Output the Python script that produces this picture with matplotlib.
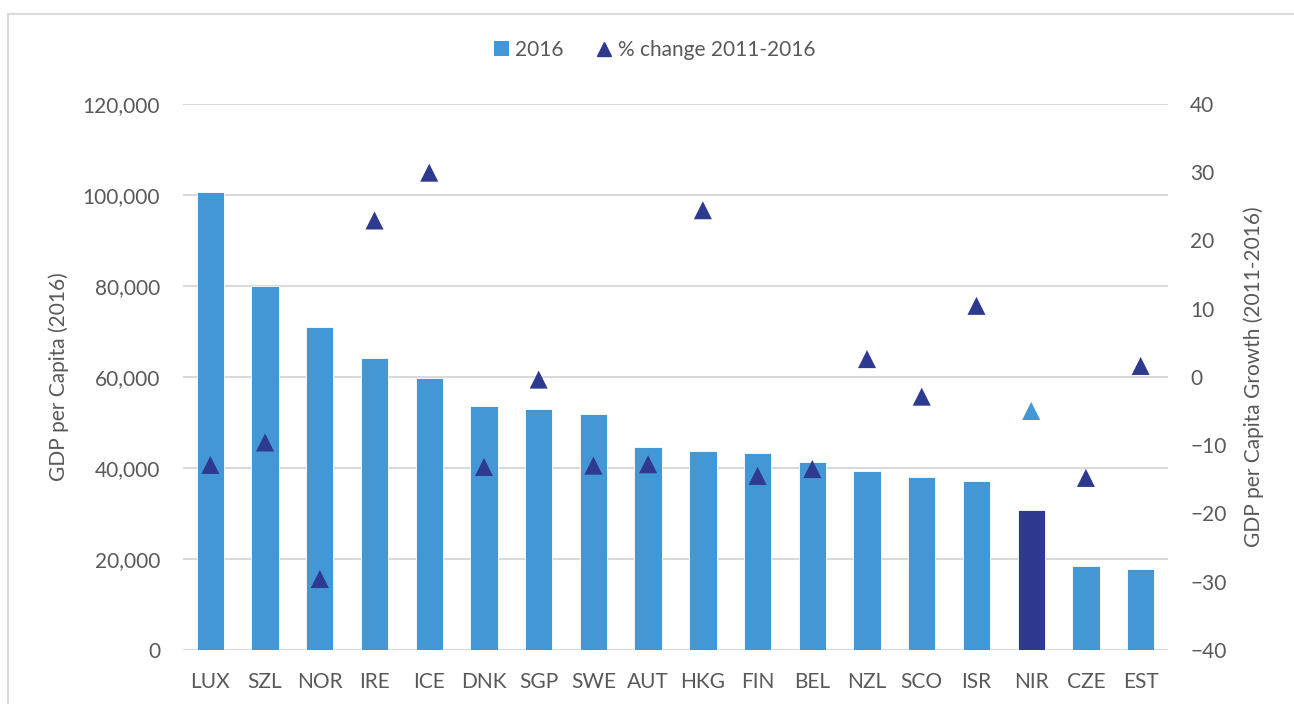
import matplotlib.pyplot as plt
import numpy as np
from matplotlib.lines import Line2D
from matplotlib.patches import Patch

countries = ["LUX", "SZL", "NOR", "IRE", "ICE", "DNK", "SGP", "SWE", "AUT",
             "HKG", "FIN", "BEL", "NZL", "SCO", "ISR", "NIR", "CZE", "EST"]
gdp_2016 = [100600, 79900, 70900, 64100, 59700, 53500, 52900, 51800, 44700,
            43700, 43300, 41200, 39400, 38000, 37100, 30700, 18400, 17800]
pct_change = [-12.9, -9.6, -29.6, 22.9, 29.9, -13.2, -0.4, -13.0, -12.8,
              24.4, -14.5, -13.5, 2.6, -2.9, 10.4, -5.0, -14.8, 1.6]
highlight = "NIR"

light_blue = "#4397d4"
dark_blue = "#2e3a90"
grid_grey = "#d9d9d9"
text_grey = "#595959"

plt.rcParams['font.family'] = ['Lato', 'DejaVu Sans']
fs = 15

fig = plt.figure(figsize=(12.94, 7.04), dpi=100)
ax = fig.add_axes([183 / 1294, 1 - 650 / 704, 985 / 1294, 546.3 / 704])
ax2 = ax.twinx()

x = np.arange(len(countries))
bar_colors = [dark_blue if c == highlight else light_blue for c in countries]
tri_colors = [light_blue if c == highlight else dark_blue for c in countries]

ax.bar(x, gdp_2016, width=0.5, color=bar_colors, edgecolor="white",
       linewidth=0.6, zorder=2)
ax2.scatter(x, pct_change, marker="^", s=13 ** 2, c=tri_colors,
            linewidths=0, zorder=3)

ax.set_xlim(-0.5, len(countries) - 0.5)
ax.set_ylim(0, 120000)
ax.set_yticks(np.arange(0, 120001, 20000))
ax.set_yticklabels([f"{v:,}" for v in range(0, 120001, 20000)])
ax2.set_ylim(-40, 40)
ax2.set_yticks(np.arange(-40, 41, 10))

ax.set_xticks(x)
ax.set_xticklabels(countries)
ax.yaxis.grid(True, color=grid_grey, linewidth=1.5)
ax.set_axisbelow(True)

for a in (ax, ax2):
    for s in a.spines.values():
        s.set_visible(False)
    a.tick_params(length=0, colors=text_grey, labelsize=fs)
ax.tick_params(axis="x", pad=16)
ax.tick_params(axis="y", pad=16.5)
ax2.tick_params(axis="y", pad=16)

ax.set_ylabel("GDP per Capita (2016)", color=text_grey, fontsize=fs, labelpad=10)
ax2.set_ylabel("GDP per Capita Growth (2011-2016)", color=text_grey,
               fontsize=fs, labelpad=12)

handles = [Patch(facecolor=light_blue, edgecolor="none"),
           Line2D([], [], marker="^", color=dark_blue, linestyle="none",
                  markersize=10.5)]
fig.legend(handles, ["2016", "% change 2011-2016"], loc="center",
           bbox_to_anchor=(655 / 1294, 1 - 50 / 704), ncol=2, frameon=False,
           fontsize=fs, labelcolor=text_grey, handlelength=0.7,
           handleheight=0.7, handletextpad=0.3, columnspacing=1.6)

# chart area border (Excel style)
fig.add_artist(Line2D([8 / 1294, 1], [1 - 14 / 704, 1 - 14 / 704],
                      color=grid_grey, linewidth=1.5))
fig.add_artist(Line2D([8 / 1294, 8 / 1294], [0, 1 - 14 / 704],
                      color=grid_grey, linewidth=1.5))

fig.savefig("out.png", dpi=100)
